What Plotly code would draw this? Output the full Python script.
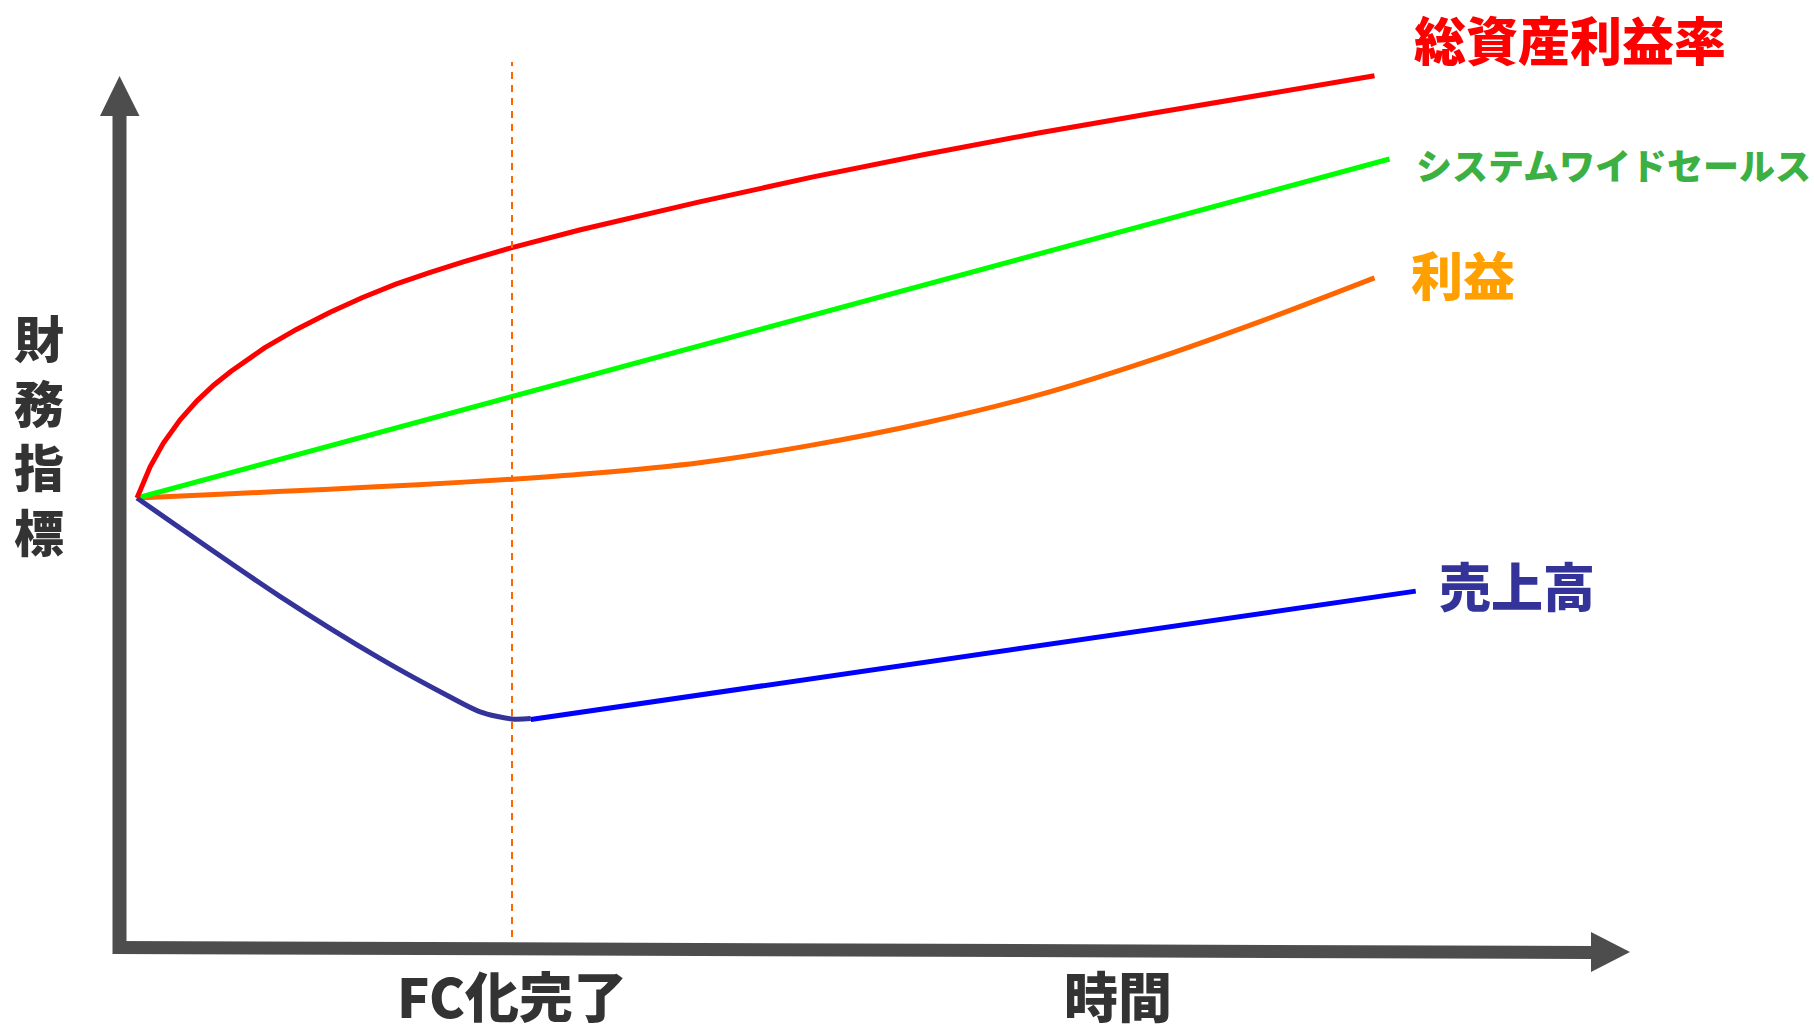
import plotly.graph_objects as go

# ---- data: conceptual financial indicators over time (index, start = 100) ----
# time unit: FC conversion completes at t = 10
fc_done_t = 10

roa_t = [0, 0.35, 0.7, 1.15, 1.6, 2.05, 2.5, 3.4, 4.25, 5.15, 6, 6.9, 7.8, 8.7,
         10, 11.8, 15, 18, 21, 24, 27, 30, 33]
roa_v = [100, 106.9, 112.1, 117.3, 121.5, 125.0, 128.0, 133.2, 137.3, 141.1, 144.3, 147.3, 149.85, 152.25,
         155.4, 159.3, 165.5, 171.0, 176.0, 180.7, 185.0, 189.3, 193.4]

sws_t = [0, 33.4]
sws_v = [100, 175]

profit_t = [0, 2.5, 5, 7.5, 10, 12, 15, 18, 21, 24, 27, 30, 33]
profit_v = [100, 100.95, 101.9, 102.95, 104.15, 105.35, 107.8, 111.7, 116.6, 122.7, 130.4, 139.2, 148.7]

sales_down_t = [0, 3.8, 6.5, 8.3, 9.15, 10, 10.5]
sales_down_v = [100, 78.3, 64.4, 56.2, 52.7, 51.1, 51.2]

sales_up_t = [10.5, 34.1]
sales_up_v = [51.0, 79.4]

roa_label = "総資産利益率"
sws_label = "システムワイドセールス"
profit_label = "利益"
sales_label = "売上高"
y_title_chars = ["財", "務", "指", "標"]
fc_label = "FC化完了"
time_label = "時間"

# ---- canvas geometry (pixels) ----
W, H = 1814, 1027
ORIGIN_PX = (137, 498)      # where t=0, v=100 sits
PX_PER_T = 37.5
PX_PER_V = 4.52
V_ZERO_PY = ORIGIN_PX[1] + 100 * PX_PER_V

x_range = [-ORIGIN_PX[0] / PX_PER_T, (W - ORIGIN_PX[0]) / PX_PER_T]
y_range = [(V_ZERO_PY - H) / PX_PER_V, V_ZERO_PY / PX_PER_V]


def px(x):
    return x / W


def py(y):
    return 1 - y / H


AXIS_COLOR = "#4D4D4D"
FONT = "Noto Sans CJK JP"

fig = go.Figure()

# dashed marker for FC completion
fig.add_shape(type="line", xref="x", yref="paper",
              x0=fc_done_t, x1=fc_done_t, y0=py(937), y1=py(62),
              line=dict(color="#FF6600", width=2, dash="7px,6px"))

line_w = 5
fig.add_trace(go.Scatter(x=profit_t, y=profit_v, mode="lines",
                         line=dict(color="#FF6600", width=line_w, shape="spline", smoothing=0.8)))
fig.add_trace(go.Scatter(x=sws_t, y=sws_v, mode="lines",
                         line=dict(color="#00FF00", width=line_w)))
fig.add_trace(go.Scatter(x=sales_down_t, y=sales_down_v, mode="lines",
                         line=dict(color="#333399", width=line_w, shape="spline", smoothing=0.8)))
fig.add_trace(go.Scatter(x=sales_up_t, y=sales_up_v, mode="lines",
                         line=dict(color="#0000FF", width=line_w)))
fig.add_trace(go.Scatter(x=roa_t, y=roa_v, mode="lines",
                         line=dict(color="#FF0000", width=line_w, shape="linear")))

# axis arrows
y_arrow = (f"M {px(112.5)},{py(954)} L {px(112.5)},{py(116)} L {px(100)},{py(116)} "
           f"L {px(119.5)},{py(76)} L {px(139.5)},{py(116)} L {px(126.5)},{py(116)} "
           f"L {px(126.5)},{py(954)} Z")
x_arrow = (f"M {px(113)},{py(941)} L {px(1591)},{py(946)} L {px(1591)},{py(932)} "
           f"L {px(1630)},{py(952)} L {px(1591)},{py(972)} L {px(1591)},{py(959)} "
           f"L {px(113)},{py(954)} Z")
for p in (y_arrow, x_arrow):
    fig.add_shape(type="path", xref="paper", yref="paper", path=p,
                  fillcolor=AXIS_COLOR, line=dict(width=0))


def label(text, x, y, color, size, xanchor="left"):
    fig.add_annotation(text=text, xref="paper", yref="paper", x=px(x), y=py(y),
                       xanchor=xanchor, yanchor="middle", showarrow=False,
                       font=dict(family=FONT, size=size, color=color, weight=900))


label(roa_label, 1412, 39, "#FF0000", 52)
label(sws_label, 1414, 164, "#3CB043", 36)
label(profit_label, 1409, 273, "#FFA000", 52)
label(sales_label, 1437, 584, "#333399", 52)
label(fc_label, 512, 994, "#333333", 54, xanchor="center")
label(time_label, 1118, 994, "#333333", 54, xanchor="center")
for i, ch in enumerate(y_title_chars):
    label(ch, 39, 336 + i * 64.5, "#333333", 50, xanchor="center")

fig.update_layout(
    width=W, height=H, autosize=False,
    margin=dict(l=0, r=0, t=0, b=0),
    paper_bgcolor="white", plot_bgcolor="white",
    showlegend=False,
    xaxis=dict(range=x_range, visible=False, fixedrange=True),
    yaxis=dict(range=y_range, visible=False, fixedrange=True),
)

fig.write_html("out.html", config={"displayModeBar": False})
